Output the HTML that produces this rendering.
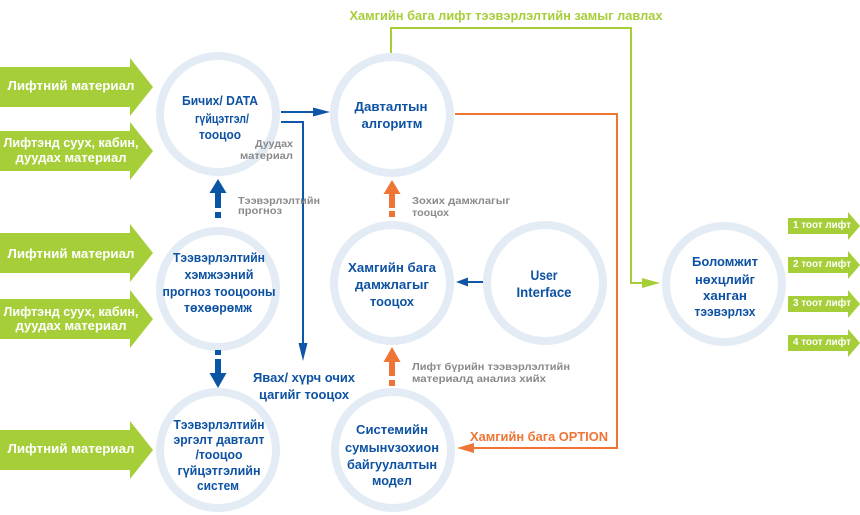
<!DOCTYPE html>
<html>
<head>
<meta charset="utf-8">
<style>
html,body{margin:0;padding:0;background:#fff;}
svg{display:block;}
text{font-family:"Liberation Sans","DejaVu Sans",sans-serif;font-weight:bold;}
.w{fill:#fff;font-size:13px;}
.ws{fill:#fff;font-size:10px;}
.b{fill:#0d52a3;font-size:12.5px;}
.g{fill:#8a8a8a;font-size:10.5px;}
</style>
</head>
<body>
<svg width="860" height="515" viewBox="0 0 860 515" xmlns="http://www.w3.org/2000/svg">
  <!-- rings -->
  <g fill="none" stroke="#e3ebf5" stroke-width="8">
    <circle cx="218" cy="114" r="58"/>
    <circle cx="392" cy="115" r="58"/>
    <circle cx="218" cy="289" r="58"/>
    <circle cx="218" cy="450" r="58"/>
    <circle cx="392" cy="283" r="58"/>
    <circle cx="545" cy="283" r="58"/>
    <circle cx="393" cy="450" r="58"/>
    <circle cx="724" cy="284" r="58"/>
  </g>

  <!-- green big arrows -->
  <g fill="#a6ce39">
    <path d="M0,67 L130,67 L130,58 L153,87 L130,116 L130,107 L0,107 Z"/>
    <path d="M0,131 L130,131 L130,122 L153,151 L130,180 L130,171 L0,171 Z"/>
    <path d="M0,233 L130,233 L130,224 L153,253 L130,282 L130,273 L0,273 Z"/>
    <path d="M0,299 L130,299 L130,290 L153,319 L130,348 L130,339 L0,339 Z"/>
    <path d="M0,430 L130,430 L130,421 L153,450 L130,479 L130,470 L0,470 Z"/>
    <!-- small right arrows -->
    <path d="M788,218 L848,218 L848,212 L860,226 L848,240 L848,234 L788,234 Z"/>
    <path d="M788,257 L848,257 L848,251 L860,265 L848,279 L848,273 L788,273 Z"/>
    <path d="M788,296 L848,296 L848,290 L860,304 L848,318 L848,312 L788,312 Z"/>
    <path d="M788,335 L848,335 L848,329 L860,343 L848,357 L848,351 L788,351 Z"/>
  </g>

  <!-- left arrow texts -->
  <text class="w" x="71" y="90" text-anchor="middle" textLength="127" lengthAdjust="spacingAndGlyphs">Лифтний материал</text>
  <text class="w" x="71" y="147" text-anchor="middle" textLength="135" lengthAdjust="spacingAndGlyphs">Лифтэнд суух, кабин,</text>
  <text class="w" x="71" y="162" text-anchor="middle" textLength="111" lengthAdjust="spacingAndGlyphs">дуудах материал</text>
  <text class="w" x="71" y="258" text-anchor="middle" textLength="127" lengthAdjust="spacingAndGlyphs">Лифтний материал</text>
  <text class="w" x="71" y="316" text-anchor="middle" textLength="135" lengthAdjust="spacingAndGlyphs">Лифтэнд суух, кабин,</text>
  <text class="w" x="71" y="330" text-anchor="middle" textLength="111" lengthAdjust="spacingAndGlyphs">дуудах материал</text>
  <text class="w" x="71" y="453" text-anchor="middle" textLength="127" lengthAdjust="spacingAndGlyphs">Лифтний материал</text>

  <!-- small arrow texts -->
  <text class="ws" x="822" y="228" text-anchor="middle" textLength="58" lengthAdjust="spacingAndGlyphs">1 тоот лифт</text>
  <text class="ws" x="822" y="267" text-anchor="middle" textLength="58" lengthAdjust="spacingAndGlyphs">2 тоот лифт</text>
  <text class="ws" x="822" y="306" text-anchor="middle" textLength="58" lengthAdjust="spacingAndGlyphs">3 тоот лифт</text>
  <text class="ws" x="822" y="345" text-anchor="middle" textLength="58" lengthAdjust="spacingAndGlyphs">4 тоот лифт</text>

  <!-- green connector -->
  <polyline points="391,53 391,28 631,28 631,283 645,283" fill="none" stroke="#a6ce39" stroke-width="2"/>
  <polygon points="642,278 660,283 642,288" fill="#a6ce39"/>
  <text x="506" y="20" text-anchor="middle" textLength="313" lengthAdjust="spacingAndGlyphs" style="fill:#a6ce39;font-size:12.5px;">Хамгийн бага лифт тээвэрлэлтийн замыг лавлах</text>

  <!-- orange connector -->
  <polyline points="455,114 617,114 617,448 472,448" fill="none" stroke="#ee7535" stroke-width="2"/>
  <polygon points="474,443 457,448 474,453" fill="#ee7535"/>
  <text x="539" y="441" text-anchor="middle" textLength="138" lengthAdjust="spacingAndGlyphs" style="fill:#ee7535;font-size:13px;">Хамгийн бага OPTION</text>

  <!-- orange dashed thick arrows -->
  <g fill="#ee7535">
    <polygon points="392,180 400.5,194 383.5,194"/>
    <rect x="389" y="193" width="6" height="15"/>
    <rect x="389" y="211" width="6" height="6"/>
    <polygon points="392,347 400.5,362 383.5,362"/>
    <rect x="389" y="361" width="6" height="15"/>
    <rect x="389" y="380" width="6" height="6"/>
  </g>

  <!-- blue dashed thick arrows -->
  <g fill="#0b55a5">
    <polygon points="218,179 226.5,193 209.5,193"/>
    <rect x="215" y="192" width="6" height="16"/>
    <rect x="215" y="212" width="6" height="6"/>
    <rect x="215" y="350" width="6" height="5"/>
    <rect x="215" y="359" width="6" height="15"/>
    <polygon points="209.5,373 226.5,373 218,388"/>
  </g>

  <!-- blue thin connectors -->
  <g stroke="#0f56a8" stroke-width="2" fill="none">
    <line x1="281" y1="112" x2="316" y2="112"/>
    <polyline points="281,122 303,122 303,345"/>
    <line x1="483" y1="282" x2="466" y2="282"/>
  </g>
  <g fill="#0f56a8">
    <polygon points="313,107.5 330,112 313,116.5"/>
    <polygon points="298.5,343 303,361 307.5,343"/>
    <polygon points="468,277.5 456,282 468,286.5"/>
  </g>

  <!-- gray labels -->
  <text class="g" x="293" y="147" text-anchor="end" textLength="38" lengthAdjust="spacingAndGlyphs">Дуудах</text>
  <text class="g" x="293" y="159" text-anchor="end" textLength="53" lengthAdjust="spacingAndGlyphs">материал</text>
  <text class="g" x="238" y="204" textLength="82" lengthAdjust="spacingAndGlyphs">Тээвэрлэлтийн</text>
  <text class="g" x="238" y="214" textLength="44" lengthAdjust="spacingAndGlyphs">прогноз</text>
  <text class="g" x="412" y="204" textLength="98" lengthAdjust="spacingAndGlyphs">Зохих дамжлагыг</text>
  <text class="g" x="412" y="216" textLength="37" lengthAdjust="spacingAndGlyphs">тооцох</text>
  <text class="g" x="412" y="370" textLength="158" lengthAdjust="spacingAndGlyphs">Лифт бүрийн тээвэрлэлтийн</text>
  <text class="g" x="412" y="382" textLength="134" lengthAdjust="spacingAndGlyphs">материалд анализ хийх</text>

  <!-- blue free label -->
  <text class="b" x="304" y="382" text-anchor="middle" textLength="102" lengthAdjust="spacingAndGlyphs">Явах/ хүрч очих</text>
  <text class="b" x="304" y="399" text-anchor="middle" textLength="90" lengthAdjust="spacingAndGlyphs">цагийг тооцох</text>

  <!-- circle texts -->
  <text class="b" x="220" y="105" text-anchor="middle" textLength="76" lengthAdjust="spacingAndGlyphs">Бичих/ DATA</text>
  <text class="b" x="222" y="123" text-anchor="middle" textLength="54" lengthAdjust="spacingAndGlyphs">гүйцэтгэл/</text>
  <text class="b" x="220" y="139" text-anchor="middle" textLength="42" lengthAdjust="spacingAndGlyphs">тооцоо</text>

  <text class="b" x="391" y="111" text-anchor="middle" textLength="73" lengthAdjust="spacingAndGlyphs">Давталтын</text>
  <text class="b" x="392" y="128" text-anchor="middle" textLength="61" lengthAdjust="spacingAndGlyphs">алгоритм</text>

  <text class="b" x="219" y="262" text-anchor="middle" textLength="92" lengthAdjust="spacingAndGlyphs">Тээвэрлэлтийн</text>
  <text class="b" x="219" y="279" text-anchor="middle" textLength="69" lengthAdjust="spacingAndGlyphs">хэмжээний</text>
  <text class="b" x="219" y="296" text-anchor="middle" textLength="113" lengthAdjust="spacingAndGlyphs">прогноз тооцооны</text>
  <text class="b" x="218" y="312" text-anchor="middle" textLength="68" lengthAdjust="spacingAndGlyphs">төхөөрөмж</text>

  <text class="b" x="219" y="429" text-anchor="middle" textLength="91" lengthAdjust="spacingAndGlyphs">Тээвэрлэлтийн</text>
  <text class="b" x="219" y="444" text-anchor="middle" textLength="91" lengthAdjust="spacingAndGlyphs">эргэлт давталт</text>
  <text class="b" x="219" y="459" text-anchor="middle" textLength="47" lengthAdjust="spacingAndGlyphs">/тооцоо</text>
  <text class="b" x="219" y="475" text-anchor="middle" textLength="83" lengthAdjust="spacingAndGlyphs">гүйцэтгэлийн</text>
  <text class="b" x="218" y="490" text-anchor="middle" textLength="42" lengthAdjust="spacingAndGlyphs">систем</text>

  <text class="b" x="392" y="272" text-anchor="middle" textLength="88" lengthAdjust="spacingAndGlyphs">Хамгийн бага</text>
  <text class="b" x="392" y="289" text-anchor="middle" textLength="74" lengthAdjust="spacingAndGlyphs">дамжлагыг</text>
  <text class="b" x="392" y="306" text-anchor="middle" textLength="44" lengthAdjust="spacingAndGlyphs">тооцох</text>

  <text class="b" x="544" y="280" text-anchor="middle" textLength="27" lengthAdjust="spacingAndGlyphs" style="font-size:13.5px;">User</text>
  <text class="b" x="544" y="297" text-anchor="middle" textLength="55" lengthAdjust="spacingAndGlyphs" style="font-size:13.5px;">Interface</text>

  <text class="b" x="392" y="434" text-anchor="middle" textLength="72" lengthAdjust="spacingAndGlyphs">Системийн</text>
  <text class="b" x="392" y="452" text-anchor="middle" textLength="94" lengthAdjust="spacingAndGlyphs">сумынvзохион</text>
  <text class="b" x="392" y="469" text-anchor="middle" textLength="90" lengthAdjust="spacingAndGlyphs">байгуулалтын</text>
  <text class="b" x="392" y="485" text-anchor="middle" textLength="40" lengthAdjust="spacingAndGlyphs">модел</text>

  <text class="b" x="725" y="266" text-anchor="middle" textLength="66" lengthAdjust="spacingAndGlyphs">Боломжит</text>
  <text class="b" x="725" y="284" text-anchor="middle" textLength="60" lengthAdjust="spacingAndGlyphs">нөхцлийг</text>
  <text class="b" x="725" y="300" text-anchor="middle" textLength="44" lengthAdjust="spacingAndGlyphs">ханган</text>
  <text class="b" x="725" y="316" text-anchor="middle" textLength="61" lengthAdjust="spacingAndGlyphs">тээвэрлэх</text>
</svg>
</body>
</html>
